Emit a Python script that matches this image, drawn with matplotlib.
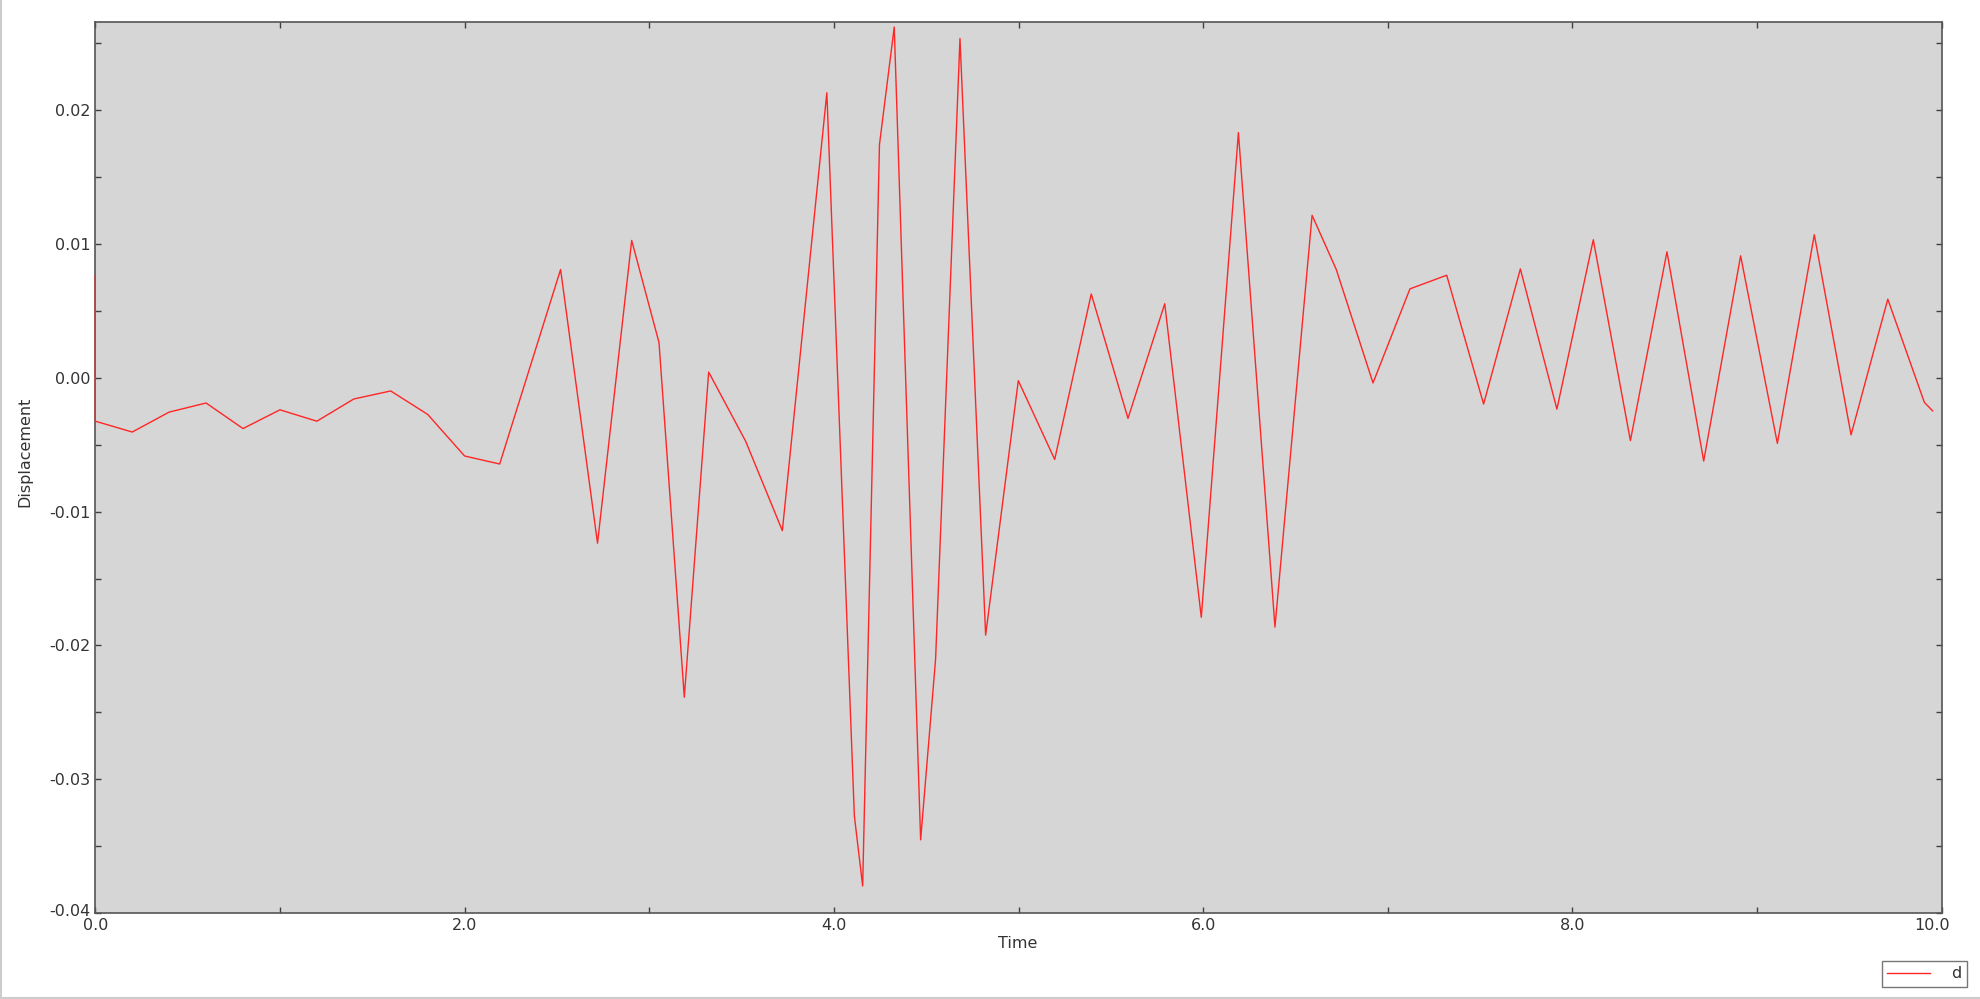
import matplotlib
matplotlib.use("Agg")
import matplotlib.pyplot as plt
import matplotlib.transforms as mtransforms
from matplotlib.ticker import MultipleLocator, FormatStrFormatter
from matplotlib.lines import Line2D

# ---- data ----
time = [0.0, 0.0, 0.2, 0.4, 0.6, 0.8, 1.0, 1.2, 1.4, 1.6, 1.8, 2.0,
        2.19, 2.52, 2.72, 2.905, 3.053, 3.19, 3.322, 3.522, 3.721, 3.962,
        4.111, 4.156, 4.247, 4.327, 4.47, 4.551, 4.683, 4.822, 4.999,
        5.196, 5.394, 5.593, 5.792, 5.99, 6.191, 6.389, 6.59, 6.721, 6.92,
        7.12, 7.319, 7.519, 7.718, 7.916, 8.113, 8.314, 8.512, 8.711,
        8.911, 9.11, 9.31, 9.509, 9.708, 9.906, 9.951]
displacement = [0.00763, -0.00324, -0.00405, -0.00256, -0.00188, -0.00379,
                -0.00239, -0.00324, -0.00158, -0.00098, -0.00273, -0.00584,
                -0.00644, 0.0081, -0.01236, 0.01027, 0.00264, -0.02387,
                0.00043, -0.00473, -0.01142, 0.02131, -0.03274, -0.03798,
                0.01744, 0.02622, -0.03453, -0.02102, 0.02536, -0.01923,
                -0.00021, -0.0061, 0.00627, -0.00303, 0.00554, -0.0179,
                0.01833, -0.01863, 0.01215, 0.0081, -0.00038, 0.00665,
                0.00767, -0.00196, 0.00814, -0.00234, 0.01032, -0.00469,
                0.00942, -0.00622, 0.00912, -0.0049, 0.0107, -0.00426,
                0.00588, -0.00183, -0.00247]
series_name = "d"
x_label = "Time"
y_label = "Displacement"

# ---- figure ----
W, H, DPI = 1980, 999, 100
fig = plt.figure(figsize=(W / DPI, H / DPI), dpi=DPI, facecolor="white")
ax = fig.add_axes([95.3 / W, 1 - 913 / H, (1941.7 - 95.3) / W, (913 - 21.7) / H])
ax.set_facecolor("#d6d6d6")

line, = ax.plot(time, displacement, color="#ff2626", lw=1.0, label=series_name,
                zorder=3, clip_on=False)

ax.set_xlim(0, 10)
ax.set_ylim(-0.04, 0.02662)

ax.xaxis.set_major_locator(MultipleLocator(2))
ax.xaxis.set_minor_locator(MultipleLocator(1))
ax.yaxis.set_major_locator(MultipleLocator(0.01))
ax.yaxis.set_minor_locator(MultipleLocator(0.005))
ax.xaxis.set_major_formatter(FormatStrFormatter("%.1f"))
ax.yaxis.set_major_formatter(FormatStrFormatter("%.2f"))

tick_col = "#404040"
ax.tick_params(which="both", direction="in", top=True, right=True,
               color=tick_col, width=1.0, length=4.5)
ax.tick_params(which="major", labelsize=11.5, labelcolor="#333333", pad=3.5)
for s in ax.spines.values():
    s.set_color("#555555")
    s.set_linewidth(1.2)

fig.canvas.draw()
xmax = ax.get_xlim()[1]
for tk in ax.xaxis.get_major_ticks():
    if abs(tk.get_loc() - xmax) < 1e-9:
        tk.label1.set_transform(tk.label1.get_transform() +
                                mtransforms.ScaledTranslation(-10 / DPI, 0, fig.dpi_scale_trans))
ymin = ax.get_ylim()[0]
for tk in ax.yaxis.get_major_ticks():
    if abs(tk.get_loc() - ymin) < 1e-9:
        tk.label1.set_transform(tk.label1.get_transform() +
                                mtransforms.ScaledTranslation(0, 3 / DPI, fig.dpi_scale_trans))

fig.text(25 / W, 1 - 452 / H, y_label, rotation=90, ha="center", va="center",
         fontsize=11.5, color="#333333")
fig.text(1018 / W, 1 - 943 / H, x_label, ha="center", va="center",
         fontsize=11.5, color="#333333")

leg = fig.legend(handles=[line], loc="lower right",
                 bbox_to_anchor=(1967 / W, 1 - 987 / H),
                 bbox_transform=fig.transFigure, fontsize=11.5,
                 frameon=True, fancybox=False, shadow=False,
                 handlelength=2.7, handletextpad=1.3, borderpad=0.35,
                 borderaxespad=0.0)
leg.get_frame().set_edgecolor("#555555")
leg.get_frame().set_linewidth(1.0)
leg.get_frame().set_facecolor("white")
for t in leg.get_texts():
    t.set_color("#333333")

# light outer border (left / bottom)
fig.add_artist(Line2D([1 / W, 1 / W], [0, 1], transform=fig.transFigure,
                      color="#cccccc", lw=1.5))
fig.add_artist(Line2D([0, 1], [1.5 / H, 1.5 / H], transform=fig.transFigure,
                      color="#cccccc", lw=1.5))

fig.savefig("out.png", dpi=DPI, facecolor="white")
